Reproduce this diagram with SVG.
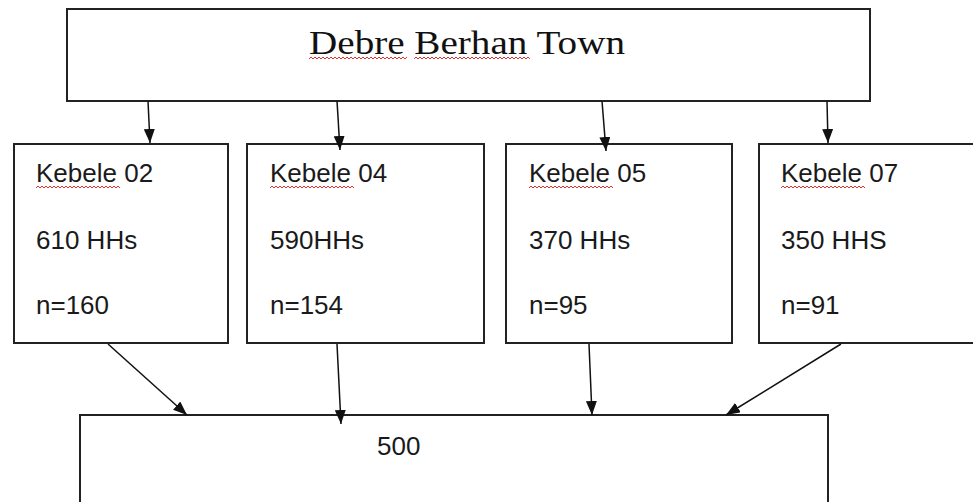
<svg xmlns="http://www.w3.org/2000/svg" width="973" height="502" viewBox="0 0 973 502">
<style>
.box{fill:#fff;stroke:#222;stroke-width:2}
.lbl{font-family:"Liberation Sans",Arial,sans-serif;font-size:26px;fill:#1a1a1a}
.title{font-family:"Liberation Serif","Times New Roman",serif;font-size:33px;fill:#111}
.conn{stroke:#111;stroke-width:1.5;fill:none;marker-end:url(#ah)}
.sq{stroke:#e03030;stroke-width:1;fill:none}
</style>
<defs>
<marker id="ah" viewBox="0 0 14 11" refX="14" refY="5.5" markerWidth="14" markerHeight="11" markerUnits="userSpaceOnUse" orient="auto">
<path d="M0,0 L14,5.5 L0,11 Z" fill="#111"/>
</marker>
</defs>
<rect width="973" height="502" fill="#fff"/>
<g id="town">
<rect class="box" x="67" y="9" width="803" height="92"/>
<text class="title" x="309" y="54" textLength="316" lengthAdjust="spacingAndGlyphs">Debre Berhan Town</text>
<path class="sq" d="M309,59 l2,-2 l2,2 l2,-2 l2,2 l2,-2 l2,2 l2,-2 l2,2 l2,-2 l2,2 l2,-2 l2,2 l2,-2 l2,2 l2,-2 l2,2 l2,-2 l2,2 l2,-2 l2,2 l2,-2 l2,2 l2,-2 l2,2 l2,-2 l2,2 l2,-2 l2,2 l2,-2 l2,2 l2,-2 l2,2 l2,-2 l2,2 l2,-2 l2,2 l2,-2 l2,2 l2,-2 l2,2 l2,-2 l2,2 l2,-2 l2,2 l2,-2 l2,2 l2,-2 l2,2 l2,-2"/>
<path class="sq" d="M414,59 l2,-2 l2,2 l2,-2 l2,2 l2,-2 l2,2 l2,-2 l2,2 l2,-2 l2,2 l2,-2 l2,2 l2,-2 l2,2 l2,-2 l2,2 l2,-2 l2,2 l2,-2 l2,2 l2,-2 l2,2 l2,-2 l2,2 l2,-2 l2,2 l2,-2 l2,2 l2,-2 l2,2 l2,-2 l2,2 l2,-2 l2,2 l2,-2 l2,2 l2,-2 l2,2 l2,-2 l2,2 l2,-2 l2,2 l2,-2 l2,2 l2,-2 l2,2 l2,-2 l2,2 l2,-2 l2,2 l2,-2 l2,2 l2,-2 l2,2 l2,-2 l2,2 l2,-2 l2,2"/>
</g>
<g id="kebele02">
<rect class="box" x="14" y="144" width="214" height="199"/>
<text class="lbl" x="36" y="182">Kebele 02</text>
<text class="lbl" x="36" y="249">610 HHs</text>
<text class="lbl" x="36" y="314">n=160</text>
<path class="sq" d="M36,188 l2,-2 l2,2 l2,-2 l2,2 l2,-2 l2,2 l2,-2 l2,2 l2,-2 l2,2 l2,-2 l2,2 l2,-2 l2,2 l2,-2 l2,2 l2,-2 l2,2 l2,-2 l2,2 l2,-2 l2,2 l2,-2 l2,2 l2,-2 l2,2 l2,-2 l2,2 l2,-2 l2,2 l2,-2 l2,2 l2,-2 l2,2 l2,-2 l2,2 l2,-2 l2,2 l2,-2 l2,2 l2,-2 l2,2"/>
</g>
<g id="kebele04">
<rect class="box" x="247" y="144" width="237" height="199"/>
<text class="lbl" x="270" y="182">Kebele 04</text>
<text class="lbl" x="270" y="249">590HHs</text>
<text class="lbl" x="270" y="314">n=154</text>
<path class="sq" d="M270,188 l2,-2 l2,2 l2,-2 l2,2 l2,-2 l2,2 l2,-2 l2,2 l2,-2 l2,2 l2,-2 l2,2 l2,-2 l2,2 l2,-2 l2,2 l2,-2 l2,2 l2,-2 l2,2 l2,-2 l2,2 l2,-2 l2,2 l2,-2 l2,2 l2,-2 l2,2 l2,-2 l2,2 l2,-2 l2,2 l2,-2 l2,2 l2,-2 l2,2 l2,-2 l2,2 l2,-2 l2,2 l2,-2 l2,2"/>
</g>
<g id="kebele05">
<rect class="box" x="506" y="144" width="226" height="199"/>
<text class="lbl" x="529" y="182">Kebele 05</text>
<text class="lbl" x="529" y="249">370 HHs</text>
<text class="lbl" x="529" y="314">n=95</text>
<path class="sq" d="M529,188 l2,-2 l2,2 l2,-2 l2,2 l2,-2 l2,2 l2,-2 l2,2 l2,-2 l2,2 l2,-2 l2,2 l2,-2 l2,2 l2,-2 l2,2 l2,-2 l2,2 l2,-2 l2,2 l2,-2 l2,2 l2,-2 l2,2 l2,-2 l2,2 l2,-2 l2,2 l2,-2 l2,2 l2,-2 l2,2 l2,-2 l2,2 l2,-2 l2,2 l2,-2 l2,2 l2,-2 l2,2 l2,-2 l2,2"/>
</g>
<g id="kebele07">
<rect class="box" x="759" y="144" width="220" height="199"/>
<text class="lbl" x="781" y="182">Kebele 07</text>
<text class="lbl" x="781" y="249">350 HHS</text>
<text class="lbl" x="781" y="314">n=91</text>
<path class="sq" d="M781,188 l2,-2 l2,2 l2,-2 l2,2 l2,-2 l2,2 l2,-2 l2,2 l2,-2 l2,2 l2,-2 l2,2 l2,-2 l2,2 l2,-2 l2,2 l2,-2 l2,2 l2,-2 l2,2 l2,-2 l2,2 l2,-2 l2,2 l2,-2 l2,2 l2,-2 l2,2 l2,-2 l2,2 l2,-2 l2,2 l2,-2 l2,2 l2,-2 l2,2 l2,-2 l2,2 l2,-2 l2,2 l2,-2 l2,2"/>
</g>
<g id="total">
<rect class="box" x="80" y="415" width="748" height="100"/>
<text class="lbl" x="377" y="455">500</text>
</g>
<g id="connectors">
<line class="conn" x1="148" y1="101" x2="150" y2="143"/>
<line class="conn" x1="337" y1="101" x2="340" y2="150"/>
<line class="conn" x1="602" y1="101" x2="606" y2="151"/>
<line class="conn" x1="827" y1="101" x2="828" y2="143"/>
<line class="conn" x1="108" y1="344" x2="187" y2="415"/>
<line class="conn" x1="337" y1="344" x2="341" y2="424"/>
<line class="conn" x1="589" y1="344" x2="592" y2="415"/>
<line class="conn" x1="841" y1="344" x2="726" y2="415"/>
</g>
</svg>
